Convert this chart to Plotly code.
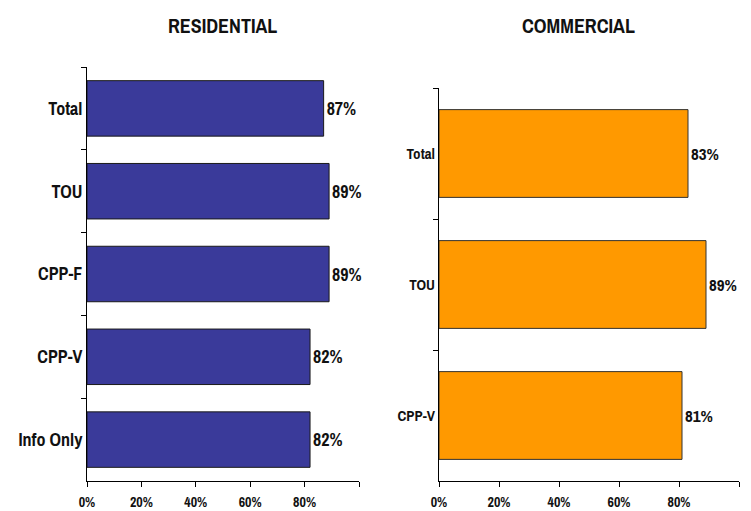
import plotly.graph_objects as go

res_cats = ["Total", "TOU", "CPP-F", "CPP-V", "Info Only"]
res_vals = [87, 89, 89, 82, 82]
com_cats = ["Total", "TOU", "CPP-V"]
com_vals = [83, 89, 81]
tick_vals = [0, 20, 40, 60, 80, 100]
tick_text = ["0%", "20%", "40%", "60%", "80%", ""]

FONT = "Archivo Narrow, Liberation Sans Narrow, Arial Narrow, Liberation Sans, sans-serif"
W, H = 751, 511


def f(size):
    return dict(family=FONT, size=size, color="#111", weight="bold")


fig = go.Figure()
fig.add_trace(go.Bar(
    y=res_cats, x=res_vals, orientation="h",
    marker=dict(color="#3a3a9a", line=dict(color="#1a1a1a", width=1)),
    text=[f"{v}%" for v in res_vals], textposition="outside",
    textfont=f(18), cliponaxis=False, xaxis="x", yaxis="y", showlegend=False,
))
fig.add_trace(go.Bar(
    y=com_cats, x=com_vals, orientation="h",
    marker=dict(color="#FF9900", line=dict(color="#333", width=1)),
    text=[f"{v}%" for v in com_vals], textposition="outside",
    textfont=f(17), cliponaxis=False, xaxis="x2", yaxis="y2", showlegend=False,
))

xcommon = dict(range=[0, 100], tickvals=tick_vals, ticktext=tick_text,
               ticks="outside", ticklen=5, tickcolor="#000", showline=True,
               linecolor="#000", linewidth=1, showgrid=False, zeroline=False,
               tickfont=f(14), ticklabelstandoff=3, automargin=False)
ycommon = dict(autorange="reversed", ticks="outside", ticklen=5, tickcolor="#000",
               tickson="boundaries", showline=True, linecolor="#000", linewidth=1,
               showgrid=False, zeroline=False, automargin=False)

fig.update_layout(
    width=W, height=H, margin=dict(l=0, r=0, t=0, b=0),
    paper_bgcolor="white", plot_bgcolor="white",
    bargap=0.33,
    xaxis=dict(domain=[87 / W, 359 / W], anchor="y", **xcommon),
    yaxis=dict(domain=[(H - 481) / H, (H - 67) / H], anchor="x",
               tickfont=f(18), **ycommon),
    xaxis2=dict(domain=[439 / W, 739 / W], anchor="y2", **xcommon),
    yaxis2=dict(domain=[(H - 481) / H, (H - 88) / H], anchor="x2",
                tickfont=f(15), **ycommon),
    annotations=[
        dict(text="RESIDENTIAL", x=223 / W, y=(H - 25) / H, xref="paper", yref="paper",
             xanchor="center", yanchor="middle", showarrow=False, font=f(20)),
        dict(text="COMMERCIAL", x=578 / W, y=(H - 25) / H, xref="paper", yref="paper",
             xanchor="center", yanchor="middle", showarrow=False, font=f(20)),
    ],
    font=dict(family=FONT, color="#111"),
)
fig.write_html("out.html")
